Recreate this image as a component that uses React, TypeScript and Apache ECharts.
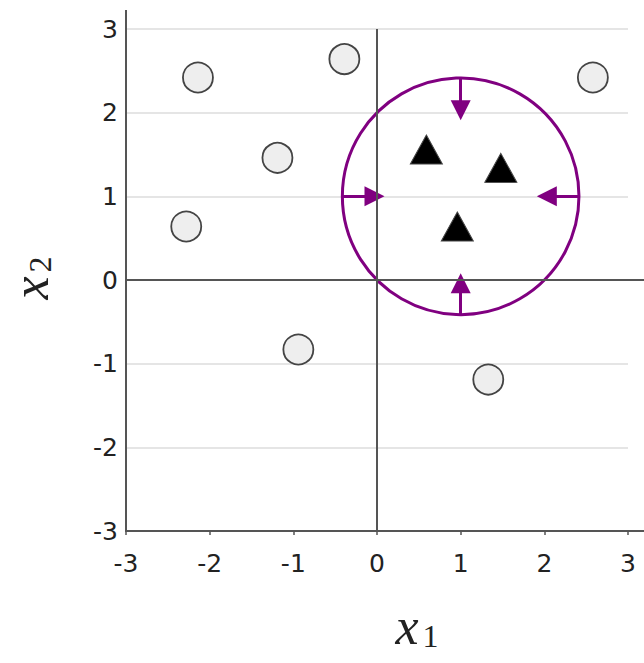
import React, { useEffect, useRef } from "react";
import * as echarts from "echarts";

const ticks = [-3, -2, -1, 0, 1, 2, 3];
const circlePoints: number[][] = [
  [-2.14, 2.42],
  [-0.39, 2.64],
  [2.58, 2.42],
  [-1.19, 1.46],
  [-2.28, 0.64],
  [-0.94, -0.83],
  [1.33, -1.19],
];
const trianglePoints: number[][] = [
  [0.59, 1.56],
  [1.48, 1.34],
  [0.96, 0.64],
];
// center x, center y, radius
const boundaryCircle: number[] = [1, 1, 1.414];
const arrowStarts: number[][] = [
  [1, 2.414],
  [1, -0.414],
  [-0.414, 1],
  [2.414, 1],
];
const arrowEnds: number[][] = [
  [1, 2.03],
  [1, -0.04],
  [-0.03, 1],
  [2.03, 1],
];

const PURPLE = "#800080";
const AXIS = "#555555";

export default function App() {
  const ref = useRef<HTMLDivElement>(null);
  useEffect(() => {
    document.body.style.margin = "0";
    const chart = echarts.init(ref.current!, null, { renderer: "svg" });
    const labelStyle = {
      fontFamily: "DejaVu Sans",
      fontSize: 25,
      color: "#222",
    };
    const option: any = {
      animation: false,
      backgroundColor: "#fff",
      grid: { left: 126, right: 16, top: 29, bottom: 132, containLabel: false },
      xAxis: {
        type: "value",
        min: ticks[0],
        max: ticks[ticks.length - 1],
        interval: 1,
        axisLine: { show: true, onZero: false, lineStyle: { color: AXIS, width: 2 } },
        axisTick: { show: true, length: 4, lineStyle: { color: AXIS, width: 1.5 } },
        axisLabel: { ...labelStyle, margin: 20 },
        splitLine: { show: false },
      },
      yAxis: {
        type: "value",
        min: ticks[0],
        max: ticks[ticks.length - 1],
        interval: 1,
        axisLine: { show: true, onZero: false, lineStyle: { color: AXIS, width: 2 } },
        axisTick: { show: false },
        axisLabel: { ...labelStyle, margin: 8 },
        splitLine: { show: true, lineStyle: { color: "#dddddd", width: 1.5 } },
      },
      series: [
        {
          type: "line",
          data: [],
          markLine: {
            silent: true,
            symbol: ["none", "none"],
            label: { show: false },
            lineStyle: { color: AXIS, width: 2, type: "solid" },
            data: [{ xAxis: 0 }, { yAxis: 0 }],
          },
        },
        {
          type: "custom",
          data: [boundaryCircle],
          clip: false,
          renderItem: (params: any, api: any) => {
            const c = api.coord([api.value(0), api.value(1)]);
            const r = api.size([api.value(2), 0])[0];
            return {
              type: "circle",
              shape: { cx: c[0], cy: c[1], r },
              style: { fill: "none", stroke: PURPLE, lineWidth: 3 },
            };
          },
          z: 3,
        },
        {
          type: "lines",
          coordinateSystem: "cartesian2d",
          symbol: ["none", "triangle"],
          symbolSize: [13, 20],
          lineStyle: { color: PURPLE, width: 3, opacity: 1 },
          data: arrowStarts.map((s, i) => ({ coords: [s, arrowEnds[i]] })),
          z: 4,
        },
        {
          type: "scatter",
          data: circlePoints,
          symbol: "circle",
          symbolSize: 30,
          itemStyle: { color: "#eeeeee", borderColor: "#444", borderWidth: 1.8, opacity: 1 },
          z: 5,
        },
        {
          type: "scatter",
          data: trianglePoints,
          symbol: "triangle",
          symbolSize: [32, 29],
          itemStyle: { color: "#000", borderColor: "#444", borderWidth: 1, opacity: 1 },
          z: 5,
        },
      ],
    };
    chart.setOption(option);

    const p00 = chart.convertToPixel({ gridIndex: 0 }, [ticks[0], ticks[0]]) as number[];
    const pMax = chart.convertToPixel({ gridIndex: 0 }, [ticks[ticks.length - 1], ticks[ticks.length - 1]]) as number[];
    const pZero = chart.convertToPixel({ gridIndex: 0 }, [0, 0]) as number[];
    const W = 644;
    const nameRich = {
      a: { fontFamily: "Liberation Serif", fontStyle: "italic", fontSize: 52, fill: "#222" },
      b: { fontFamily: "Liberation Serif", fontSize: 32, fill: "#222", padding: [20, 0, 0, 4] },
    };
    chart.setOption({
      graphic: [
        { type: "line", shape: { x1: pMax[0], y1: p00[1], x2: W, y2: p00[1] }, style: { stroke: AXIS, lineWidth: 2 } },
        { type: "line", shape: { x1: pMax[0], y1: pZero[1], x2: W, y2: pZero[1] }, style: { stroke: AXIS, lineWidth: 2 } },
        { type: "line", shape: { x1: p00[0], y1: pMax[1], x2: p00[0], y2: 10 }, style: { stroke: AXIS, lineWidth: 2 } },
        {
          type: "text",
          x: 417,
          y: 626,
          style: { text: "{a|x}{b|1}", align: "center", verticalAlign: "middle", rich: nameRich },
        },
        {
          type: "text",
          x: 30,
          y: 278,
          rotation: Math.PI / 2,
          style: { text: "{a|x}{b|2}", align: "center", verticalAlign: "middle", rich: nameRich },
        },
      ],
    });
    return () => chart.dispose();
  }, []);
  return <div ref={ref} style={{ width: 644, height: 663 }} />;
}
